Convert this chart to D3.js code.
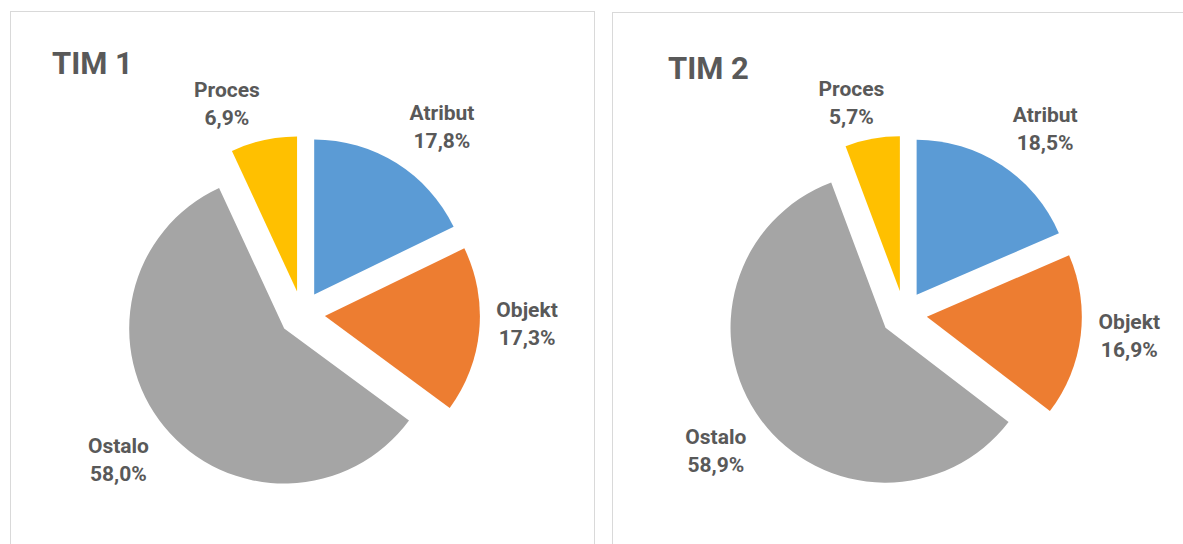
<!DOCTYPE html>
<html>
<head>
<meta charset="utf-8">
<script src="https://cdn.jsdelivr.net/npm/d3@7"></script>
<style>
  body { margin: 0; background: #fff; }
  text { font-family: Roboto, "Liberation Sans", sans-serif; font-weight: bold; fill: #595959; }
</style>
</head>
<body>
<div id="chart"></div>
<script>
// data
const categories = ["Atribut", "Objekt", "Ostalo", "Proces"];
const tim1Values = [17.8, 17.3, 58.0, 6.9];
const tim2Values = [18.5, 16.9, 58.9, 5.7];
const titles = ["TIM 1", "TIM 2"];

const colors = ["#5B9BD5", "#ED7D31", "#A5A5A5", "#FFC000"];

var width = 1183;
var height = 544;

// layout of the two panels
const panels = [
  { values: tim1Values, box: [10.5, 11.5, 584, 560], cx: 302, cy: 314, titleX: 52, titleY: 74,
    nudge: [[19, 6], [-2, -11], [-7, 1], [-26, 12]] },
  { values: tim2Values, box: [612.5, 12.5, 600, 560], cx: 904, cy: 314, titleX: 668, titleY: 79,
    nudge: [[16, 5], [-1, -6], [-5, 1], [-12, 13]] }
];

const radius = 155;
const explode = 23;
const labelDist = 228;

var svg = d3.select("#chart")
  .append("svg")
  .attr("width", width)
  .attr("height", height);

const pie = d3.pie().sort(null).value(d => d);
const arc = d3.arc().innerRadius(0).outerRadius(radius);
const fmt = v => d3.format(".1f")(v).replace(".", ",") + "%";

panels.forEach((p, pi) => {
  svg.append("rect")
    .attr("x", p.box[0]).attr("y", p.box[1])
    .attr("width", p.box[2]).attr("height", p.box[3])
    .attr("fill", "none")
    .attr("stroke", "#d9d9d9")
    .attr("stroke-width", 1);

  svg.append("text")
    .attr("x", p.titleX)
    .attr("y", p.titleY)
    .attr("font-size", "31px")
    .text(titles[pi]);

  const g = svg.append("g").attr("transform", `translate(${p.cx},${p.cy})`);
  const arcs = pie(p.values);

  g.selectAll("path")
    .data(arcs)
    .join("path")
    .attr("d", arc)
    .attr("fill", (d, i) => colors[i])
    .attr("transform", d => {
      const a = (d.startAngle + d.endAngle) / 2;
      return `translate(${explode * Math.sin(a)},${-explode * Math.cos(a)})`;
    });

  const labels = g.selectAll("text.lbl")
    .data(arcs)
    .join("text")
    .attr("class", "lbl")
    .attr("text-anchor", "middle")
    .attr("font-size", "21px")
    .attr("transform", (d, i) => {
      const a = (d.startAngle + d.endAngle) / 2;
      const x = labelDist * Math.sin(a) + p.nudge[i][0];
      const y = -labelDist * Math.cos(a) + p.nudge[i][1];
      return `translate(${x},${y})`;
    });

  labels.append("tspan")
    .attr("x", 0).attr("y", -6.5)
    .text((d, i) => categories[i]);
  labels.append("tspan")
    .attr("x", 0).attr("y", 21.5)
    .text(d => fmt(d.data));
});
</script>
</body>
</html>
